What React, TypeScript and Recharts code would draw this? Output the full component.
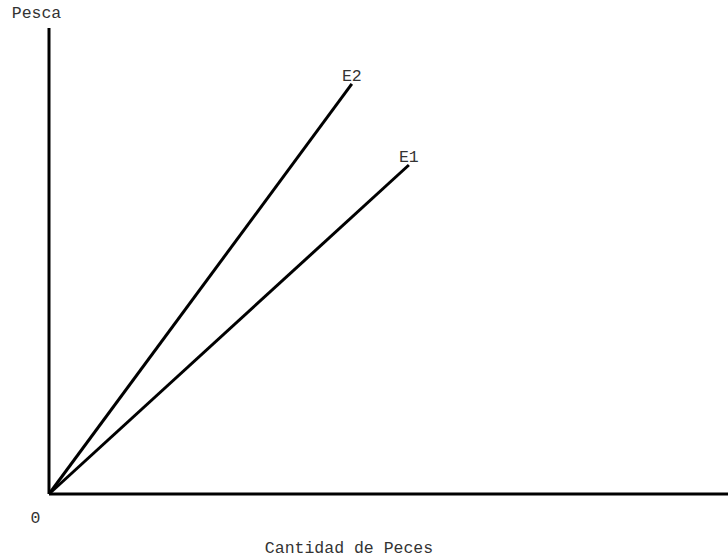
import { LineChart, Line, XAxis, YAxis, LabelList } from "recharts";

// eje horizontal: cantidad de peces, eje vertical: pesca (escala 0-100)
const e1Cantidad = [0, 53];
const e1Pesca = [0, 70.6];
const e2Cantidad = [0, 44.6];
const e2Pesca = [0, 88];
const seriesNames = ["E1", "E2"];
const xTicks = [0];

const e1Data = e1Cantidad.map((x, i) => ({
  x,
  y: e1Pesca[i],
  tag: i === e1Cantidad.length - 1 ? seriesNames[0] : "",
}));
const e2Data = e2Cantidad.map((x, i) => ({
  x,
  y: e2Pesca[i],
  tag: i === e2Cantidad.length - 1 ? seriesNames[1] : "",
}));

const font = "'Liberation Mono', monospace";
const textColor = "#333";
const fs = 16.5;

export default function App() {
  return (
    <div style={{ position: "absolute", left: 0, top: 0, width: 728, height: 558, background: "#fff" }}>
      <LineChart
        width={728}
        height={558}
        margin={{ top: 28, right: 0, bottom: 0, left: 0 }}
      >
        <XAxis
          type="number"
          dataKey="x"
          domain={[0, 100]}
          ticks={xTicks}
          height={64}
          axisLine={{ stroke: "#000", strokeWidth: 3 }}
          tickLine={false}
          tickMargin={11}
          tick={{ fontSize: fs, fontFamily: font, fill: textColor, dx: -13.5 }}
          label={{
            value: "Cantidad de Peces",
            position: "insideBottom",
            offset: 5,
            dx: -39.5,
            fontSize: fs,
            fontFamily: font,
            fill: textColor,
          }}
        />
        <YAxis
          type="number"
          dataKey="y"
          domain={[0, 100]}
          width={49}
          axisLine={{ stroke: "#000", strokeWidth: 3 }}
          tickLine={false}
          tick={false}
          label={{
            value: "Pesca",
            position: "top",
            offset: 10,
            dx: 12,
            fontSize: fs,
            fontFamily: font,
            fill: textColor,
          }}
        />
        <Line
          data={e1Data}
          dataKey="y"
          stroke="#000"
          strokeWidth={3}
          dot={false}
          isAnimationActive={false}
        >
          <LabelList dataKey="tag" position="top" offset={3} fontSize={fs} fontFamily={font} fill={textColor} />
        </Line>
        <Line
          data={e2Data}
          dataKey="y"
          stroke="#000"
          strokeWidth={3}
          dot={false}
          isAnimationActive={false}
        >
          <LabelList dataKey="tag" position="top" offset={3} fontSize={fs} fontFamily={font} fill={textColor} />
        </Line>
      </LineChart>
    </div>
  );
}
